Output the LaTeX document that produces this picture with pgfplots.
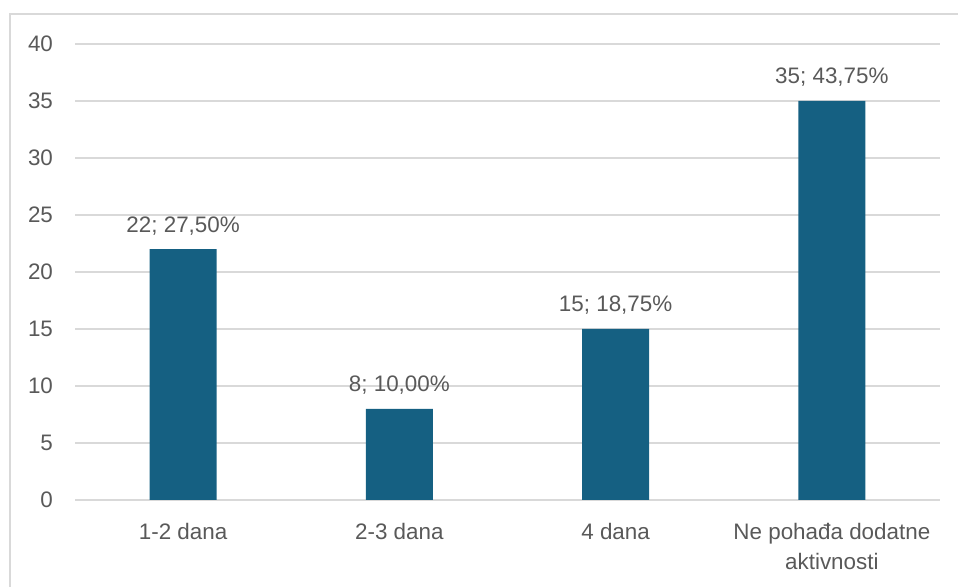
\documentclass[border=0pt]{standalone}
\usepackage{fontspec}
\setmainfont{Liberation Sans}
\usepackage{pgfplots}
\pgfplotsset{compat=1.18}
\definecolor{barc}{HTML}{156082}
\definecolor{txt}{HTML}{595959}
\definecolor{gridc}{HTML}{D9D9D9}
\expandafter\def\csname labA\endcsname{22; 27,50\%}
\expandafter\def\csname labB\endcsname{8; 10,00\%}
\expandafter\def\csname labC\endcsname{15; 18,75\%}
\expandafter\def\csname labD\endcsname{35; 43,75\%}
\begin{document}
\begin{tikzpicture}
\useasboundingbox (0pt,0pt) rectangle (479pt,293.5pt);
\draw[gridc, line width=1pt] (5pt,-20pt) rectangle (495pt,286.5pt);
\begin{axis}[
  at={(37.5pt,43.5pt)}, anchor=south west,
  scale only axis, width=432.5pt, height=228pt,
  xmin=-0.5, xmax=3.5, ymin=0, ymax=40,
  ytick={0,5,...,40},
  xtick={0,1,2,3},
  xticklabels={1-2 dana, 2-3 dana, 4 dana, {Ne pohađa dodatne\\aktivnosti}},
  xticklabel style={align=center, text=txt, font=\fontsize{11.2}{15}\selectfont, yshift=-4pt},
  yticklabel style={text=txt, font=\fontsize{11.2}{14}\selectfont, xshift=-7.5pt},
  /pgf/number format/assume math mode=true,
  axis line style={draw=none},
  tick style={draw=none},
  ymajorgrids, grid style={gridc, line width=0.75pt},
  ybar, bar width=33.5pt,
]
\addplot[fill=barc, draw=none, point meta=explicit symbolic,
  nodes near coords={\csname lab\pgfplotspointmeta\endcsname},
  every node near coord/.append style={anchor=base, yshift=8.5pt, text=txt, font=\fontsize{11.2}{14}\selectfont}]
  coordinates {
  (0,22) [A]
  (1,8) [B]
  (2,15) [C]
  (3,35) [D]
};
\end{axis}
\end{tikzpicture}
\end{document}
